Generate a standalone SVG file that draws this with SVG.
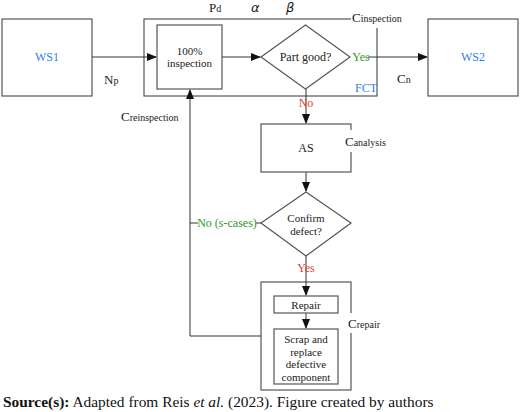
<svg xmlns="http://www.w3.org/2000/svg" width="520" height="412" viewBox="0 0 520 412">
<style>
.box{fill:#fff;stroke:#555;stroke-width:1.2}
.frame{fill:none;stroke:#555;stroke-width:1.2}
.ln{fill:none;stroke:#333;stroke-width:1}
.t{font-family:"Liberation Serif","DejaVu Serif",serif;font-size:12px;fill:#222;text-anchor:middle}
.m{font-size:11px}
.blue{fill:#2f80ed}
.green{fill:#2e9a2e}
.red{fill:#e53935}
.lab{font-family:"Liberation Serif",serif;font-size:13px;fill:#222}
.sm{font-size:10px}
.gk{font-family:"DejaVu Sans",sans-serif;font-style:italic;font-size:13px;fill:#222}
.bg{fill:#fff;stroke:none}
</style>
<defs>
<marker id="ah" markerWidth="10" markerHeight="8" refX="9" refY="4" orient="auto" markerUnits="userSpaceOnUse">
<path d="M0,0 L10,4 L0,8 Z" fill="#111"/>
</marker>
</defs>

<g id="fct-frame">
<rect class="frame" x="144" y="19" width="233" height="77"/>
</g>
<g id="repair-frame">
<rect class="frame" x="261" y="282" width="90" height="108"/>
</g>

<g id="connectors">
<path class="ln" d="M92,57 H156" marker-end="url(#ah)"/>
<path class="ln" d="M222,57 H260" marker-end="url(#ah)"/>
<path class="ln" d="M368,57 H427" marker-end="url(#ah)"/>
<path class="ln" d="M306,89 V123" marker-end="url(#ah)"/>
<path class="ln" d="M306,172 V191" marker-end="url(#ah)"/>
<path class="ln" d="M306,256 V295" marker-end="url(#ah)"/>
<path class="ln" d="M306,313 V328" marker-end="url(#ah)"/>
<path class="ln" d="M261,336 H190 V90" marker-end="url(#ah)"/>
<path class="ln" d="M190,223 H198"/>
<path class="ln" d="M256,223 H261"/>
</g>

<g id="ws1">
<rect class="box" x="2" y="19" width="90" height="77"/>
<text class="t blue" x="47" y="61">WS1</text>
</g>
<g id="inspection">
<rect class="box" x="157" y="25" width="65" height="64"/>
<text class="t m" x="189.5" y="54.5">100%</text>
<text class="t m" x="189.5" y="67">inspection</text>
</g>
<g id="part-good">
<polygon class="box" points="261,57 305.5,25 350,57 305.5,89"/>
<text class="t" x="305.5" y="61">Part good?</text>
</g>
<g id="ws2">
<rect class="box" x="428" y="19" width="90" height="77"/>
<text class="t blue" x="473" y="61">WS2</text>
</g>
<g id="as">
<rect class="box" x="261" y="124" width="90" height="48"/>
<text class="t" x="306" y="152">AS</text>
</g>
<g id="confirm-defect">
<polygon class="box" points="261,223 306,192 351,223 306,256"/>
<text class="t m" x="306" y="221.5">Confirm</text>
<text class="t m" x="306" y="234.5">defect?</text>
</g>
<g id="repair">
<rect class="box" x="274" y="296" width="64" height="17"/>
<text class="t m" x="306" y="308.5">Repair</text>
</g>
<g id="scrap">
<rect class="box" x="274" y="329" width="64" height="55"/>
<text class="t m" x="306" y="343">Scrap and</text>
<text class="t m" x="306" y="355.5">replace</text>
<text class="t m" x="306" y="368">defective</text>
<text class="t m" x="306" y="380.5">component</text>
</g>

<g id="labels">
<text class="t green" x="361" y="61">Yes</text>
<text class="t red" x="306" y="107">No</text>
<text class="t red" x="306" y="272">Yes</text>
<text class="t green" x="227" y="227">No (s-cases)</text>
<text class="t blue" x="366" y="92">FCT</text>
<text class="lab" x="209" y="12">P<tspan class="sm">d</tspan></text>
<text class="gk" x="251" y="12">α</text>
<text class="gk" x="286" y="12">β</text>
<rect class="bg" x="351" y="9" width="52" height="19"/>
<text class="lab" x="352" y="22">C<tspan class="sm">inspection</tspan></text>
<text class="lab" x="104" y="84">N<tspan class="sm">p</tspan></text>
<text class="lab" x="397" y="83">C<tspan class="sm">n</tspan></text>
<text class="lab" x="121" y="121">C<tspan class="sm">reinspection</tspan></text>
<rect class="bg" x="344" y="130" width="44" height="22"/>
<text class="lab" x="345" y="146">C<tspan class="sm">analysis</tspan></text>
<rect class="bg" x="347" y="313" width="36" height="20"/>
<text class="lab" x="348" y="328">C<tspan class="sm">repair</tspan></text>
</g>

<text x="3" y="407" style="font-family:'Liberation Serif',serif;font-size:15.4px;fill:#111"><tspan font-weight="bold">Source(s):</tspan> Adapted from Reis <tspan font-style="italic">et al.</tspan> (2023). Figure created by authors</text>
</svg>
